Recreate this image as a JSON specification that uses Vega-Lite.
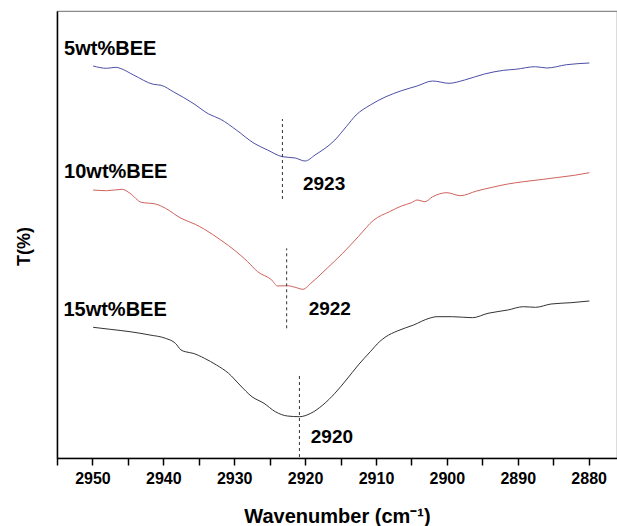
{
  "$schema": "https://vega.github.io/schema/vega-lite/v6.json",
  "autosize": "none",
  "width": 560,
  "height": 447,
  "padding": {"left": 57, "top": 11, "right": 0, "bottom": 68},
  "background": "white",
  "config": {"view": {"stroke": "#8a8a8a", "strokeWidth": 1.2}},
  "datasets": {
    "curves": [
      {"s": "5wt%BEE", "wn": 2949.9, "t": 392},
      {"s": "5wt%BEE", "wn": 2948.0, "t": 389.7},
      {"s": "5wt%BEE", "wn": 2946.7, "t": 390.7},
      {"s": "5wt%BEE", "wn": 2946.1, "t": 389.7},
      {"s": "5wt%BEE", "wn": 2944.2, "t": 383},
      {"s": "5wt%BEE", "wn": 2941.4, "t": 373.7},
      {"s": "5wt%BEE", "wn": 2940.3, "t": 372.7},
      {"s": "5wt%BEE", "wn": 2938.6, "t": 366.3},
      {"s": "5wt%BEE", "wn": 2935.8, "t": 354.7},
      {"s": "5wt%BEE", "wn": 2933.6, "t": 344},
      {"s": "5wt%BEE", "wn": 2931.9, "t": 338.7},
      {"s": "5wt%BEE", "wn": 2929.7, "t": 328},
      {"s": "5wt%BEE", "wn": 2927.2, "t": 314.7},
      {"s": "5wt%BEE", "wn": 2925.3, "t": 308},
      {"s": "5wt%BEE", "wn": 2923.2, "t": 301.3},
      {"s": "5wt%BEE", "wn": 2921.4, "t": 300},
      {"s": "5wt%BEE", "wn": 2920.0, "t": 297},
      {"s": "5wt%BEE", "wn": 2918.6, "t": 303},
      {"s": "5wt%BEE", "wn": 2915.8, "t": 318},
      {"s": "5wt%BEE", "wn": 2914.2, "t": 331.3},
      {"s": "5wt%BEE", "wn": 2912.8, "t": 343},
      {"s": "5wt%BEE", "wn": 2910.8, "t": 353},
      {"s": "5wt%BEE", "wn": 2908.6, "t": 361.3},
      {"s": "5wt%BEE", "wn": 2906.4, "t": 367.3},
      {"s": "5wt%BEE", "wn": 2904.2, "t": 372},
      {"s": "5wt%BEE", "wn": 2902.0, "t": 377},
      {"s": "5wt%BEE", "wn": 2899.7, "t": 374.7},
      {"s": "5wt%BEE", "wn": 2897.5, "t": 378},
      {"s": "5wt%BEE", "wn": 2894.7, "t": 384},
      {"s": "5wt%BEE", "wn": 2892.0, "t": 387.7},
      {"s": "5wt%BEE", "wn": 2890.3, "t": 388.7},
      {"s": "5wt%BEE", "wn": 2887.5, "t": 391.3},
      {"s": "5wt%BEE", "wn": 2885.9, "t": 390},
      {"s": "5wt%BEE", "wn": 2883.1, "t": 393.3},
      {"s": "5wt%BEE", "wn": 2879.9, "t": 395},

      {"s": "10wt%BEE", "wn": 2949.9, "t": 268},
      {"s": "10wt%BEE", "wn": 2948.0, "t": 267.3},
      {"s": "10wt%BEE", "wn": 2945.8, "t": 268.7},
      {"s": "10wt%BEE", "wn": 2944.7, "t": 264.7},
      {"s": "10wt%BEE", "wn": 2943.1, "t": 255.7},
      {"s": "10wt%BEE", "wn": 2941.1, "t": 254},
      {"s": "10wt%BEE", "wn": 2939.7, "t": 249.7},
      {"s": "10wt%BEE", "wn": 2937.5, "t": 239.7},
      {"s": "10wt%BEE", "wn": 2935.5, "t": 233.7},
      {"s": "10wt%BEE", "wn": 2934.2, "t": 228.7},
      {"s": "10wt%BEE", "wn": 2931.9, "t": 218},
      {"s": "10wt%BEE", "wn": 2929.7, "t": 206.3},
      {"s": "10wt%BEE", "wn": 2928.1, "t": 196.3},
      {"s": "10wt%BEE", "wn": 2926.7, "t": 186.3},
      {"s": "10wt%BEE", "wn": 2924.7, "t": 178},
      {"s": "10wt%BEE", "wn": 2923.9, "t": 172},
      {"s": "10wt%BEE", "wn": 2922.5, "t": 172.3},
      {"s": "10wt%BEE", "wn": 2921.4, "t": 170.7},
      {"s": "10wt%BEE", "wn": 2920.3, "t": 168.7},
      {"s": "10wt%BEE", "wn": 2919.2, "t": 174.7},
      {"s": "10wt%BEE", "wn": 2916.9, "t": 189.7},
      {"s": "10wt%BEE", "wn": 2914.7, "t": 204.7},
      {"s": "10wt%BEE", "wn": 2912.5, "t": 221.3},
      {"s": "10wt%BEE", "wn": 2910.3, "t": 238},
      {"s": "10wt%BEE", "wn": 2908.1, "t": 246.3},
      {"s": "10wt%BEE", "wn": 2906.4, "t": 252},
      {"s": "10wt%BEE", "wn": 2905.0, "t": 255.3},
      {"s": "10wt%BEE", "wn": 2904.2, "t": 258},
      {"s": "10wt%BEE", "wn": 2903.1, "t": 256.3},
      {"s": "10wt%BEE", "wn": 2902.0, "t": 261.3},
      {"s": "10wt%BEE", "wn": 2900.0, "t": 265.3},
      {"s": "10wt%BEE", "wn": 2898.1, "t": 262.3},
      {"s": "10wt%BEE", "wn": 2895.8, "t": 267},
      {"s": "10wt%BEE", "wn": 2893.6, "t": 270.7},
      {"s": "10wt%BEE", "wn": 2891.4, "t": 274},
      {"s": "10wt%BEE", "wn": 2889.2, "t": 276.3},
      {"s": "10wt%BEE", "wn": 2886.4, "t": 278.7},
      {"s": "10wt%BEE", "wn": 2884.2, "t": 280.7},
      {"s": "10wt%BEE", "wn": 2882.0, "t": 282.7},
      {"s": "10wt%BEE", "wn": 2879.9, "t": 285.3},

      {"s": "15wt%BEE", "wn": 2949.9, "t": 130.7},
      {"s": "15wt%BEE", "wn": 2947.5, "t": 128.7},
      {"s": "15wt%BEE", "wn": 2944.7, "t": 126.3},
      {"s": "15wt%BEE", "wn": 2941.9, "t": 123},
      {"s": "15wt%BEE", "wn": 2939.7, "t": 119.7},
      {"s": "15wt%BEE", "wn": 2938.3, "t": 114.7},
      {"s": "15wt%BEE", "wn": 2937.5, "t": 108},
      {"s": "15wt%BEE", "wn": 2936.9, "t": 106.3},
      {"s": "15wt%BEE", "wn": 2935.8, "t": 104.7},
      {"s": "15wt%BEE", "wn": 2934.2, "t": 99.7},
      {"s": "15wt%BEE", "wn": 2932.5, "t": 93},
      {"s": "15wt%BEE", "wn": 2930.8, "t": 84.7},
      {"s": "15wt%BEE", "wn": 2929.2, "t": 73},
      {"s": "15wt%BEE", "wn": 2927.5, "t": 61.3},
      {"s": "15wt%BEE", "wn": 2925.8, "t": 54.7},
      {"s": "15wt%BEE", "wn": 2924.2, "t": 46.3},
      {"s": "15wt%BEE", "wn": 2922.5, "t": 42},
      {"s": "15wt%BEE", "wn": 2920.8, "t": 41.3},
      {"s": "15wt%BEE", "wn": 2919.2, "t": 44.7},
      {"s": "15wt%BEE", "wn": 2917.5, "t": 53},
      {"s": "15wt%BEE", "wn": 2915.8, "t": 64.7},
      {"s": "15wt%BEE", "wn": 2914.2, "t": 78},
      {"s": "15wt%BEE", "wn": 2912.5, "t": 93},
      {"s": "15wt%BEE", "wn": 2910.8, "t": 106.3},
      {"s": "15wt%BEE", "wn": 2909.5, "t": 116.3},
      {"s": "15wt%BEE", "wn": 2908.6, "t": 121.3},
      {"s": "15wt%BEE", "wn": 2907.0, "t": 127},
      {"s": "15wt%BEE", "wn": 2904.7, "t": 133},
      {"s": "15wt%BEE", "wn": 2902.5, "t": 139.7},
      {"s": "15wt%BEE", "wn": 2901.4, "t": 141.3},
      {"s": "15wt%BEE", "wn": 2899.2, "t": 141.3},
      {"s": "15wt%BEE", "wn": 2896.4, "t": 140.3},
      {"s": "15wt%BEE", "wn": 2894.2, "t": 144.7},
      {"s": "15wt%BEE", "wn": 2891.4, "t": 148},
      {"s": "15wt%BEE", "wn": 2889.2, "t": 151.3},
      {"s": "15wt%BEE", "wn": 2887.5, "t": 150.7},
      {"s": "15wt%BEE", "wn": 2885.3, "t": 154},
      {"s": "15wt%BEE", "wn": 2882.5, "t": 155.3},
      {"s": "15wt%BEE", "wn": 2879.9, "t": 157}
    ],
    "marks": [
      {"s": "5wt%BEE", "wn": 2923.2, "y1": 259, "y2": 339},
      {"s": "10wt%BEE", "wn": 2922.6, "y1": 129.7, "y2": 209.7},
      {"s": "15wt%BEE", "wn": 2920.8, "y1": 1, "y2": 83}
    ],
    "names": [
      {"txt": "5wt%BEE", "wn": 2954.0, "t": 402.9},
      {"txt": "10wt%BEE", "wn": 2954.0, "t": 280.2},
      {"txt": "15wt%BEE", "wn": 2954.1, "t": 141.9}
    ],
    "peaks": [
      {"txt": "2923", "wn": 2920.3, "t": 267.6},
      {"txt": "2922", "wn": 2919.5, "t": 143.3},
      {"txt": "2920", "wn": 2919.2, "t": 14.9}
    ]
  },
  "layer": [
    {
      "data": {"name": "curves"},
      "mark": {"type": "line", "strokeWidth": 1, "interpolate": "monotone"},
      "encoding": {
        "x": {
          "field": "wn", "type": "quantitative",
          "scale": {"domain": [2955, 2876], "nice": false, "zero": false},
          "axis": {
            "orient": "bottom",
            "values": [2955, 2950, 2945, 2940, 2935, 2930, 2925, 2920, 2915, 2910, 2905, 2900, 2895, 2890, 2885, 2880],
            "tickCount": 40,
            "format": "d",
            "labelExpr": "datum.value % 10 === 0 ? datum.label : ''",
            "ticks": true,
            "tickSize": 7,
            "tickColor": "black",
            "tickWidth": 1.5,
            "encode": {"ticks": {"update": {"y2": {"signal": "datum.value % 10 === 0 ? 7 : 4"}}}},
            "domainColor": "black",
            "domainWidth": 1.5,
            "grid": false,
            "labelFont": "Liberation Sans",
            "labelFontWeight": "bold",
            "labelFontSize": 16,
            "labelColor": "black",
            "labelPadding": 5,
            "labelFlush": false,
            "labelOverlap": false,
            "title": "Wavenumber (cm⁻¹)",
            "titleFont": "Liberation Sans",
            "titleFontWeight": "bold",
            "titleFontSize": 20,
            "titleColor": "black",
            "titleBaseline": "alphabetic",
            "titleY": 64
          }
        },
        "y": {
          "field": "t", "type": "quantitative",
          "scale": {"domain": [0, 447], "nice": false, "zero": false},
          "axis": {
            "domainColor": "black",
            "domainWidth": 1.5,
            "ticks": false,
            "labels": false,
            "grid": false,
            "title": "T(%)",
            "titleFont": "Liberation Sans",
            "titleFontWeight": "bold",
            "titleFontSize": 18,
            "titleColor": "black",
            "titleAngle": -90,
            "titleBaseline": "alphabetic",
            "titleAlign": "center",
            "titleX": -28,
            "titleY": 235
          }
        },
        "color": {
          "field": "s", "type": "nominal",
          "scale": {"domain": ["5wt%BEE", "10wt%BEE", "15wt%BEE"], "range": ["#4b4fa6", "#d0625c", "#333333"]},
          "legend": null
        }
      }
    },
    {
      "data": {"name": "marks"},
      "mark": {"type": "rule", "strokeDash": [3, 3], "strokeWidth": 1, "color": "#333333"},
      "encoding": {
        "x": {"field": "wn", "type": "quantitative"},
        "y": {"field": "y1", "type": "quantitative"},
        "y2": {"field": "y2"}
      }
    },
    {
      "data": {"name": "names"},
      "mark": {"type": "text", "font": "Liberation Sans", "fontWeight": "bold", "fontSize": 20, "align": "left", "baseline": "alphabetic", "color": "black"},
      "encoding": {
        "x": {"field": "wn", "type": "quantitative"},
        "y": {"field": "t", "type": "quantitative"},
        "text": {"field": "txt"}
      }
    },
    {
      "data": {"name": "peaks"},
      "mark": {"type": "text", "font": "Liberation Sans", "fontWeight": "bold", "fontSize": 19, "align": "left", "baseline": "alphabetic", "color": "black"},
      "encoding": {
        "x": {"field": "wn", "type": "quantitative"},
        "y": {"field": "t", "type": "quantitative"},
        "text": {"field": "txt"}
      }
    }
  ]
}
